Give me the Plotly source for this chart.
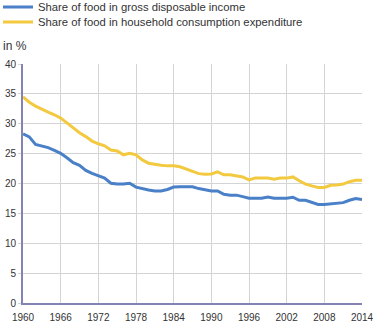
import plotly.graph_objects as go

years = list(range(1960, 2015))

share_income = [
    28.3, 27.8, 26.55, 26.3, 26.0, 25.55, 25.05, 24.3, 23.5, 23.05,
    22.2, 21.7, 21.3, 20.9, 20.05, 19.9, 19.9, 20.05, 19.4, 19.1,
    18.9, 18.75, 18.75, 19.0, 19.4, 19.45, 19.45, 19.45, 19.15, 18.9,
    18.75, 18.75, 18.2, 18.05, 18.05, 17.8, 17.55, 17.55, 17.55, 17.75,
    17.55, 17.55, 17.55, 17.7, 17.2, 17.2, 16.9, 16.5, 16.5, 16.6,
    16.65, 16.8, 17.2, 17.5, 17.3,
]

share_expenditure = [
    34.5, 33.6, 32.95, 32.4, 31.95, 31.5, 30.95, 30.15, 29.3, 28.5,
    27.85, 27.1, 26.65, 26.3, 25.6, 25.45, 24.8, 25.05, 24.8, 23.95,
    23.4, 23.2, 23.05, 22.95, 22.95, 22.8, 22.4, 21.95, 21.65, 21.55,
    21.6, 21.95, 21.45, 21.45, 21.3, 21.1, 20.6, 20.9, 20.9, 20.9,
    20.7, 20.9, 20.9, 21.1, 20.45, 19.9, 19.6, 19.35, 19.35, 19.7,
    19.75, 19.9, 20.3, 20.55, 20.55,
]

series_names = [
    "Share of food in gross disposable income",
    "Share of food in household consumption expenditure",
]

x_ticks = list(range(1960, 2015, 6))
y_ticks = list(range(0, 41, 5))

fig = go.Figure()
fig.add_trace(go.Scatter(
    x=years, y=share_income, mode="lines", name=series_names[0],
    line=dict(color="#4a80c8", width=3), legend="legend",
))
fig.add_trace(go.Scatter(
    x=years, y=share_expenditure, mode="lines", name=series_names[1],
    line=dict(color="#f3c940", width=3), legend="legend2",
))

text_color = "#333333"
axis_font = dict(family="Liberation Sans, Arial, sans-serif", size=10, color=text_color)

# plot area width in pixels, used to place the legends left of the y axis
plot_w = 378 - 23 - 16


def legend_box(y_center):
    # one entry per legend box so the two rows sit close together
    return dict(
        xref="paper", yref="container", x=(-2 - 23) / plot_w, y=y_center,
        xanchor="left", yanchor="middle",
        font=dict(size=11.3, color=text_color),
        itemwidth=30, bgcolor="rgba(0,0,0,0)",
    )


fig.update_layout(
    width=378, height=326,
    margin=dict(l=23, r=16, t=64, b=23, autoexpand=False),
    paper_bgcolor="white", plot_bgcolor="white",
    font=dict(family="Liberation Sans, Arial, sans-serif", size=11, color=text_color),
    showlegend=True,
    legend=legend_box(1 - 7 / 326),
    legend2=legend_box(1 - 22 / 326),
    xaxis=dict(
        range=[1960, 2014], tickvals=x_ticks,
        showgrid=True, gridcolor="#d4d4d4", gridwidth=1,
        showline=True, linecolor="#8383b5", linewidth=2,
        ticks="", tickfont=axis_font, zeroline=False,
        ticklabelstandoff=4,
    ),
    yaxis=dict(
        range=[0, 40], tickvals=y_ticks,
        showgrid=True, gridcolor="#d4d4d4", gridwidth=1,
        showline=True, linecolor="#8383b5", linewidth=2,
        ticks="outside", ticklen=3, tickcolor="#d4d4d4",
        tickfont=axis_font, zeroline=False,
    ),
    annotations=[dict(
        text="in %", xref="paper", yref="paper", x=0, y=1,
        xshift=-22, yshift=9, xanchor="left", yanchor="bottom",
        showarrow=False, font=dict(size=12, color=text_color),
    )],
)

fig.write_html("out.html")
